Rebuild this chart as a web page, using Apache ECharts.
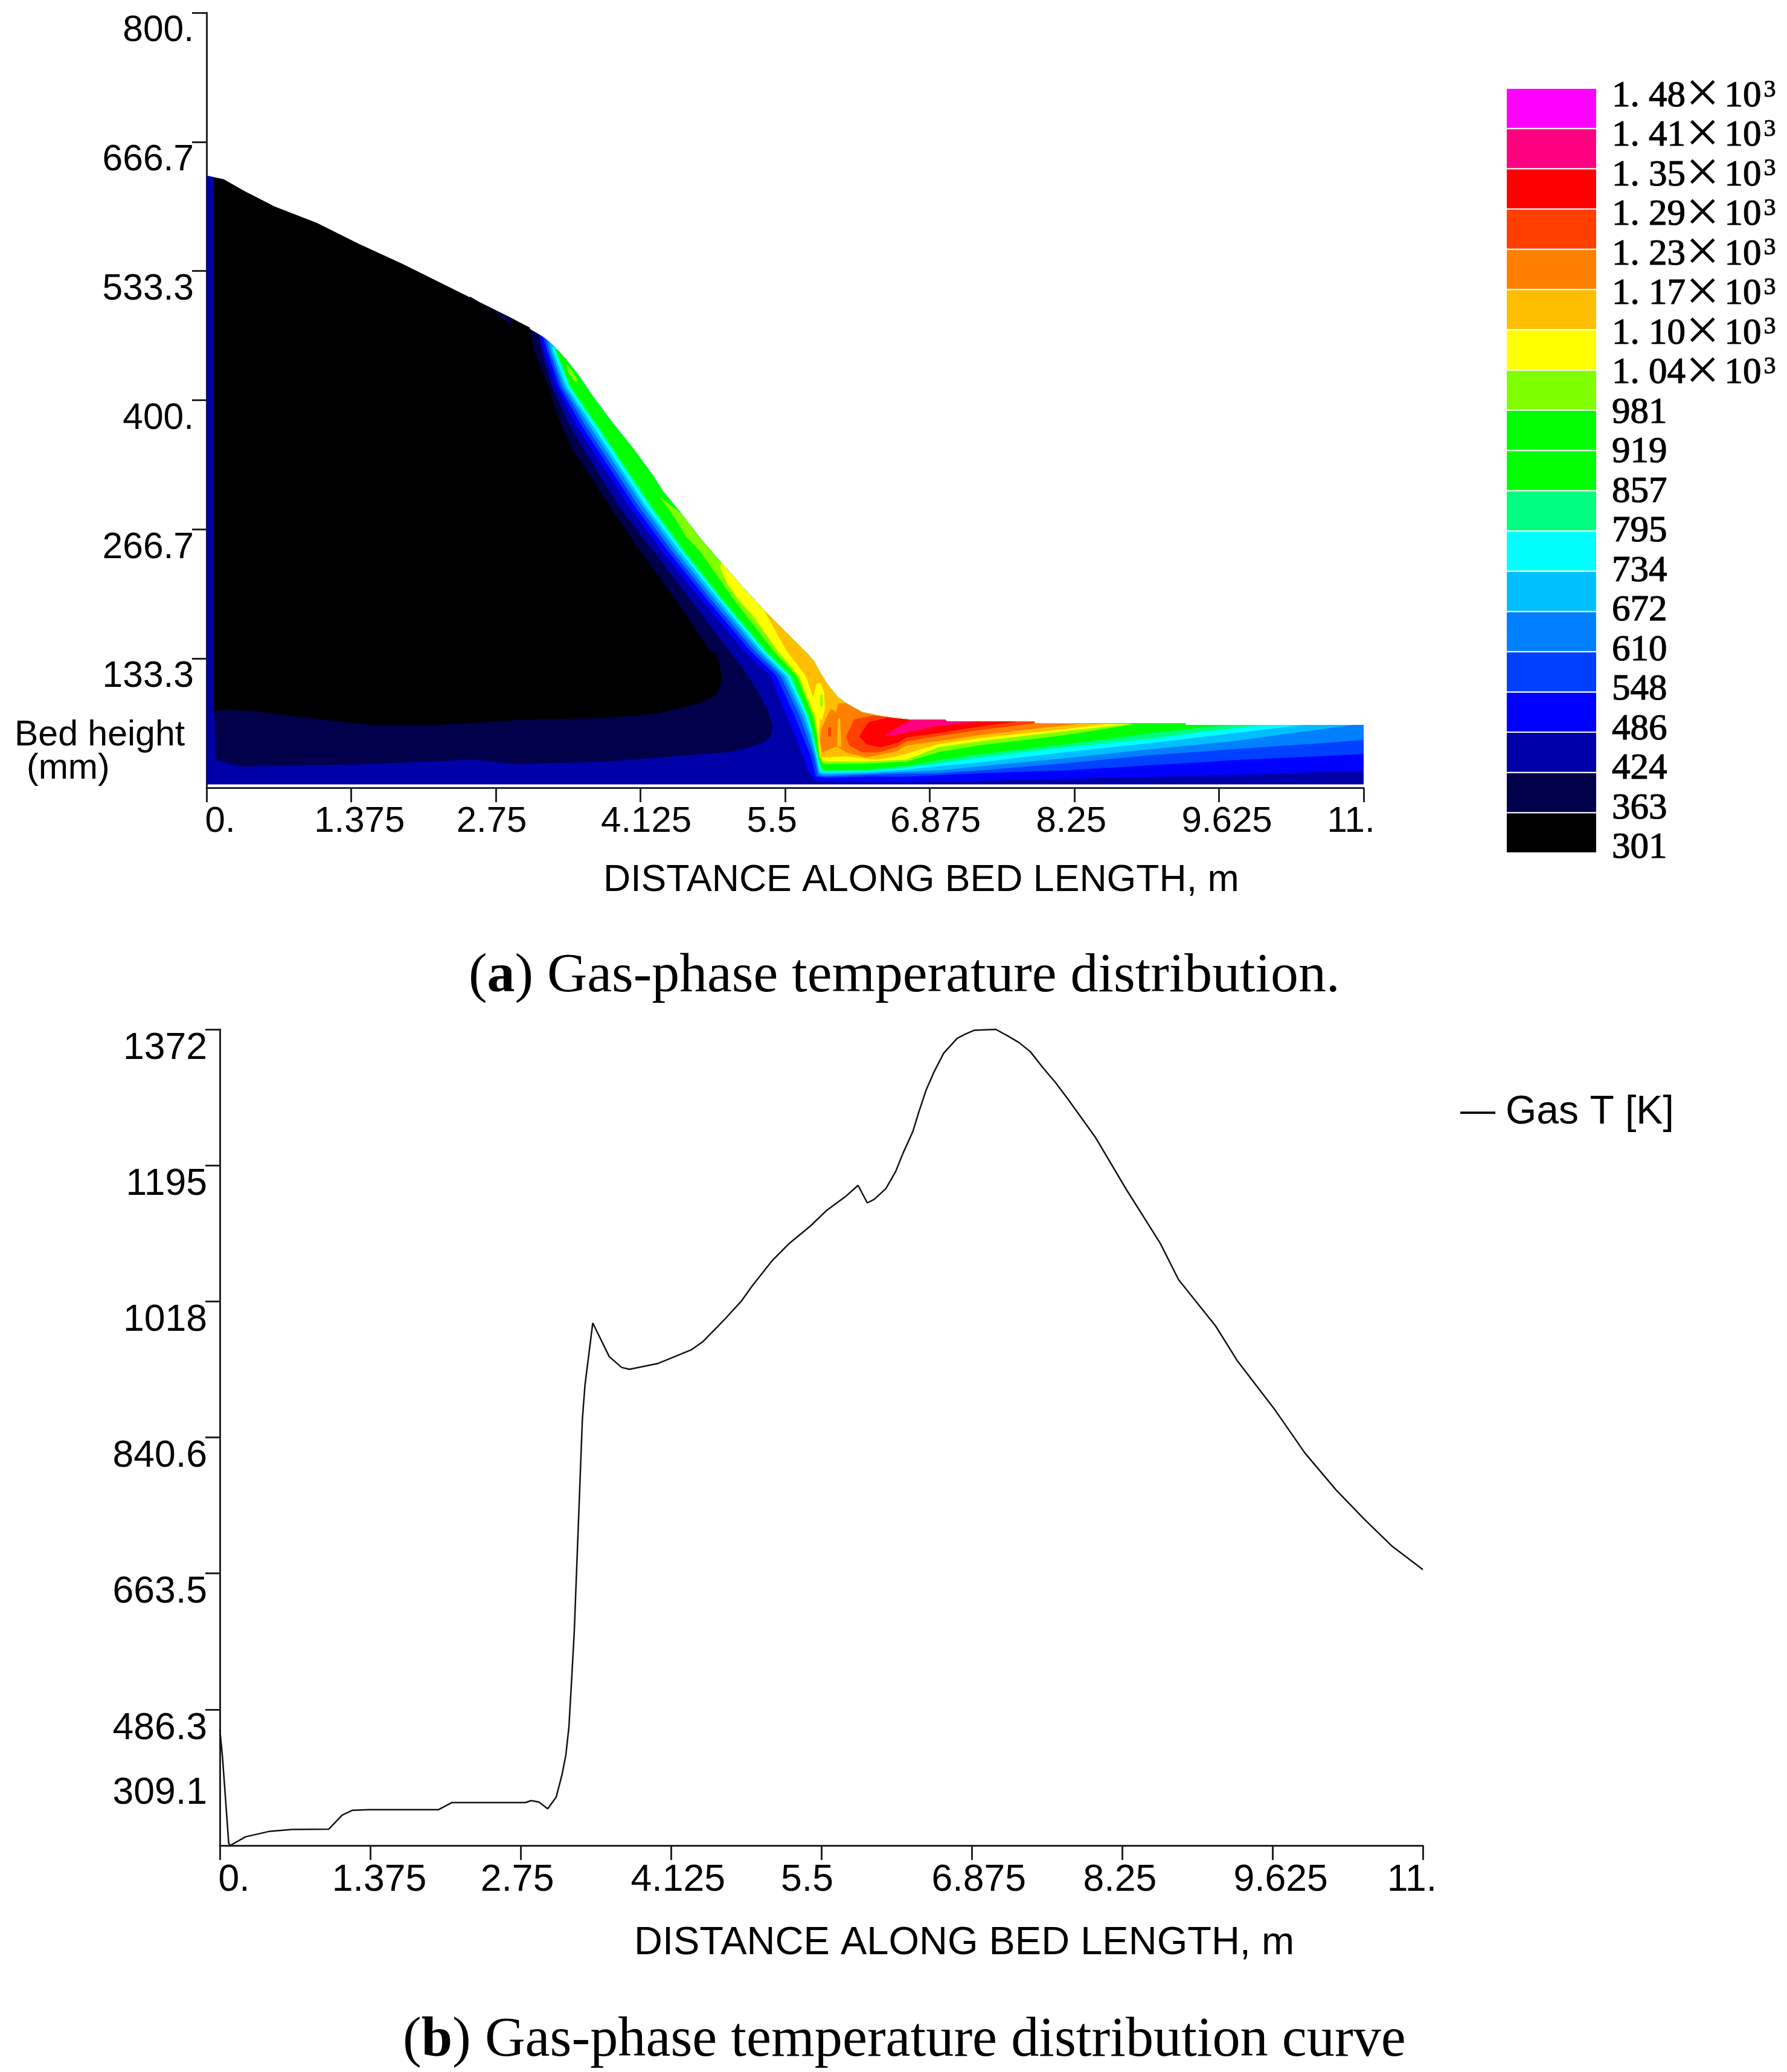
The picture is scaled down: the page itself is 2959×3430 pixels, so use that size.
<!DOCTYPE html>
<html>
<head>
<meta charset="utf-8">
<script src="https://cdn.jsdelivr.net/npm/echarts@6/dist/echarts.min.js"></script>
<style>
  html, body { margin: 0; padding: 0; background: #fff; }
  #chart { width: 2959px; height: 3430px; }
</style>
</head>
<body>
<div id="chart"></div>
<script>
// tick values and labels, labels sit off their ticks in the original
const xTicks = [0, 1.375, 2.75, 4.125, 5.5, 6.875, 8.25, 9.625, 11];
const xTickLabels = ['0.', '1.375', '2.75', '4.125', '5.5', '6.875', '8.25', '9.625', '11.'];
const xLabelPosA = [0.13, 1.454, 2.71, 4.18, 5.375, 6.93, 8.22, 9.70, 10.88];
const xLabelPosB = [0.13, 1.458, 2.72, 4.19, 5.37, 6.94, 8.23, 9.70, 10.90];
const yTicksA = [133.33, 266.67, 400, 533.33, 666.67, 800];
const yTickLabelsA = ['133.3', '266.7', '400.', '533.3', '666.7', '800.'];
const yTicksB = [486.3, 663.5, 840.6, 1018, 1195, 1372];
const yLabelPosB = [401.6, 486.3, 663.5, 840.6, 1018, 1195, 1372];
const yTickLabelsB = ['309.1', '486.3', '663.5', '840.6', '1018', '1195', '1372'];

// legend, bottom to top
const legendValues = ['301', '363', '424', '486', '548', '610', '672', '734', '795', '857', '919', '981',
  '1. 04', '1. 10', '1. 17', '1. 23', '1. 29', '1. 35', '1. 41', '1. 48'];
const legendColors = ['#000000', '#00004B', '#0000A8', '#0000FF', '#0040FF', '#0080FF', '#00BFFF', '#00FFFF',
  '#00FF80', '#00FF00', '#00FF00', '#80FF00', '#FFFF00', '#FFBF00', '#FF8000', '#FF4000', '#FF0000', '#FF0080', '#FF00FF'];

// top surface of the bed [m, mm]
const bedTop = [[0, 632], [0.162, 628], [0.364, 615.6], [0.647, 599.8], [1.051, 582.8], [1.456, 560.9], [1.86, 540.8],
  [2.265, 519], [2.588, 501.5], [2.912, 484], [3.092, 472.4], [3.188, 466.2], [3.245, 461.6], [3.331, 452.7],
  [3.418, 442.3], [3.552, 423.6], [3.667, 404.9], [3.858, 376.9], [4.05, 351], [4.241, 322.9], [4.337, 306.3],
  [4.509, 283.5], [4.701, 256.5], [4.892, 232.6], [5.084, 208.7], [5.295, 183.8], [5.467, 165.1], [5.687, 141.2],
  [5.774, 130.9], [5.831, 119.4], [5.908, 105.9], [6.004, 93.5], [6.08, 87.3], [6.234, 77.9], [6.425, 73.8],
  [6.598, 71.3], [6.7, 70.2], [7.02, 70.2], [7.04, 68.5], [7.87, 68.5], [7.875, 66.5], [9.3, 66.5], [9.31, 64.8], [11, 64.8]];
const bedBottom = 3.5;

// temperature contours, each starts and ends on the bed top or on the right edge
const contour363 = [[2.507, 507], [0.07, 85], [0.086, 28.6], [0.34, 21.8], [1.517, 24.3], [2.54, 29], [2.95, 24.3], [3.78, 27],
  [4.0, 28.4], [4.61, 34], [4.931, 36.4], [5.123, 40.5], [5.276, 45.7], [5.362, 52.9], [5.381, 63.4], [5.343, 77.9],
  [5.257, 96.6], [5.123, 119.4], [4.969, 141.2], [4.614, 192.1], [4.25, 244], [3.916, 290.7], [3.456, 372.8],
  [3.284, 414.3], [3.184, 451.7], [3.16, 468]];
const below363 = [[0.07, 630], [0.07, 78.7], [0.202, 80.9], [0.445, 78.7], [0.971, 72], [1.577, 64.7], [2.184, 64.7], [2.993, 70],
  [3.801, 72.1], [4.287, 76.5], [4.691, 87.4], [4.853, 96.2], [4.901, 113.7], [4.853, 137.7], [4.787, 141.2], [4.471, 192.1],
  [4.126, 244], [3.83, 290.7], [3.628, 325], [3.475, 349.9], [3.379, 372.8], [3.303, 395.6], [3.264, 410.1], [3.188, 430.9],
  [3.111, 451.7], [3.073, 475]];
const navyPatch = [[2.5, 507.5], [2.73, 492.7], [2.87, 478.7], [2.93, 483], [2.6, 501]];
const contour486 = [[3.169, 467], [3.203, 451.7], [3.322, 414.3], [3.523, 372.8], [4.012, 290.7], [4.333, 244], [4.72, 192.1],
  [5.113, 141.2], [5.362, 115.3], [5.515, 73.8], [5.6, 53], [5.669, 32.2], [5.736, 14.6], [5.793, 7.3], [6.08, 6], [6.66, 5.6],
  [7.36, 7.1], [8.17, 9.1], [8.98, 11.2], [9.78, 13.3], [10.51, 16], [11, 16.6]];
const contour548 = [[3.2, 465], [3.236, 451.7], [3.351, 414.3], [3.571, 372.8], [4.069, 290.7], [4.388, 244], [4.774, 192.1],
  [5.17, 141.2], [5.419, 115.3], [5.592, 73.8], [5.669, 53], [5.745, 32.2], [5.793, 11.5], [5.889, 10.4], [6.272, 11.5], [6.655, 11.4],
  [6.96, 12.9], [7.36, 15], [8.17, 18], [8.98, 23.3], [9.78, 28.5], [10.59, 32.6], [11, 34.7]];
const contour610 = [[3.23, 463], [3.255, 451.7], [3.376, 414.3], [3.609, 372.8], [4.107, 290.7], [4.427, 244], [4.812, 192.1],
  [5.208, 141.2], [5.458, 115.3], [5.64, 73.8], [5.707, 53], [5.774, 32.2], [5.812, 12.9], [5.889, 11.9], [6.272, 13.5], [6.655, 14.6],
  [6.96, 15], [7.36, 18], [8.17, 25.3], [8.98, 33.6], [9.78, 39.9], [10.59, 46], [11, 49.2]];
const contour672 = [[3.26, 460], [3.274, 451.7], [3.399, 414.3], [3.644, 372.8], [4.146, 290.7], [4.465, 244], [4.85, 192.1],
  [5.247, 141.2], [5.487, 115.3], [5.669, 73.8], [5.736, 53], [5.787, 32.2], [5.822, 14.6], [5.889, 13.5], [6.272, 14.6], [6.655, 16.6],
  [6.96, 18], [7.36, 22.2], [8.17, 30.5], [8.98, 39.9], [9.78, 48.2], [10.18, 54.4], [10.91, 64.8]];
const contour734 = [[3.29, 456], [3.293, 451.7], [3.422, 414.3], [3.676, 372.8], [4.174, 290.7], [4.5, 244], [4.883, 192.1],
  [5.275, 141.2], [5.515, 115.3], [5.697, 73.8], [5.755, 53], [5.797, 32.2], [5.831, 16], [5.889, 15.2], [6.272, 16], [6.655, 18.7],
  [6.96, 22.2], [7.36, 26.4], [8.17, 36.8], [8.98, 46.1], [9.78, 56.5], [10.43, 64.8]];
const contour795 = [[3.315, 454], [3.312, 451.7], [3.446, 414.3], [3.709, 372.8], [4.213, 290.7], [4.528, 244], [4.908, 192.1],
  [5.304, 141.2], [5.544, 115.3], [5.716, 73.8], [5.764, 53], [5.808, 32.2], [5.847, 17.3], [5.889, 16.6], [6.272, 17.3], [6.655, 20.8],
  [6.96, 25.3], [7.36, 31.6], [8.17, 42], [8.98, 50.7], [9.38, 56.5], [10.04, 64.8]];
const contour857 = [[3.328, 453], [3.322, 451.7], [3.46, 414.3], [3.724, 372.8], [4.232, 290.7], [4.551, 244], [4.927, 192.1],
  [5.323, 141.2], [5.563, 115.3], [5.726, 73.8], [5.774, 53], [5.814, 32.2], [5.851, 18.7], [5.889, 18.1], [6.272, 18.7], [6.655, 22.9],
  [6.96, 28.5], [7.36, 34.7], [8.17, 45], [8.98, 56.5], [9.7, 64.8]];
const contour981 = [[4.509, 283.5], [4.312, 299.7], [4.394, 287.6], [4.49, 272], [4.547, 260.6], [4.691, 244], [5.026, 192.1],
  [5.39, 141.2], [5.611, 115.3], [5.764, 73.8], [5.803, 53], [5.822, 32.2], [5.86, 24.9], [5.889, 24.3], [6.272, 24.9], [6.655, 27],
  [6.96, 36.8], [7.36, 44], [8.17, 54.4], [8.81, 65.5]];
const contour1040 = [[4.892, 232.6], [4.883, 227.4], [4.95, 210.8], [5.074, 192.1], [5.195, 177.6], [5.429, 141.2], [5.63, 115.3],
  [5.784, 73.8], [5.812, 53], [5.831, 32.2], [5.87, 27], [5.889, 27], [6.272, 27], [6.655, 29], [6.96, 42], [7.36, 48.2],
  [8.17, 58.6], [8.81, 65.8]];
const contour1100 = [[5.295, 183.8], [5.515, 141.2], [5.697, 115.3], [5.831, 73.8], [5.822, 53], [5.841, 32.2], [5.851, 31], [6.08, 32.2],
  [6.368, 29], [6.56, 32.2], [6.655, 35.3], [6.96, 45], [7.36, 51.3], [8.17, 60.6], [8.55, 65.8]];
const contour1170 = [[6.08, 87.3], [6.004, 87.3], [5.985, 77.9], [5.937, 82], [5.908, 75.8], [5.841, 60.3], [5.831, 48.8], [5.851, 36.4],
  [5.994, 42.6], [6.08, 36.4], [6.272, 31.2], [6.368, 33.3], [6.56, 37.4], [6.655, 43.6], [6.96, 48.2], [7.36, 54.4], [7.77, 59.6], [8.29, 65.8]];
const contour1230 = [[6.425, 73.8], [6.329, 74.4], [6.157, 70.6], [6.08, 53], [6.109, 43.6], [6.234, 36.4], [6.387, 36.4], [6.56, 41.6],
  [6.655, 47.8], [6.96, 53.4], [7.36, 59.6], [7.875, 66.5]];
const contour1290 = [[6.55, 71.6], [6.464, 72.1], [6.291, 67.5], [6.205, 53], [6.272, 44.7], [6.406, 41.6], [6.579, 46.8], [6.655, 52],
  [6.96, 56.5], [7.32, 62.7], [7.7, 68.5]];
const contour1350 = [[6.7, 70.2], [6.556, 61.7], [6.456, 54.4], [6.456, 52.8], [6.677, 57.5], [6.96, 63.8], [7.32, 67.9], [7.33, 68.5]];
// small closed pockets
const limePatch = [[3.418, 438.2], [3.466, 432], [3.523, 421.6], [3.517, 416.8], [3.446, 426.8]];
const yellowPocket = [[5.783, 100.8], [5.803, 108], [5.841, 108], [5.87, 98.7], [5.879, 82], [5.851, 69.6], [5.812, 73.8], [5.764, 90.4]];
const limePocket = [[5.835, 95.6], [5.856, 95.6], [5.856, 84.1], [5.835, 84.1]];
const amberStripe = [[5.996, 42.6], [6.004, 71.7], [6.023, 71.7], [6.036, 42.6]];
const redOrangeSpot = [[5.908, 62.3], [5.937, 62.3], [5.937, 52.9], [5.908, 52.9]];

// gas temperature along the bed, panel b
const gasX = [0, 0.025, 0.053, 0.081, 0.095, 0.236, 0.448, 0.66, 0.995, 1.118, 1.213, 1.365, 2.0, 2.123, 2.794, 2.847, 2.917, 2.998,
  3.076, 3.129, 3.164, 3.192, 3.217, 3.241, 3.315, 3.339, 3.41, 3.561, 3.674, 3.745, 4.009, 4.309, 4.415, 4.609, 4.767, 4.873,
  5.049, 5.208, 5.402, 5.543, 5.719, 5.836, 5.92, 5.984, 6.09, 6.178, 6.248, 6.337, 6.39, 6.46, 6.53, 6.619, 6.742, 6.813, 6.9, 7.095,
  7.2, 7.306, 7.412, 7.526, 7.64, 7.752, 8.005, 8.287, 8.598, 8.767, 9.105, 9.303, 9.641, 9.923, 10.205, 10.459, 10.713, 11];
const gasT = [460, 423, 368, 312, 309.1, 320.4, 327.3, 329.9, 330.3, 348.5, 355, 355.8, 355.8, 365, 365, 367.5, 365.7, 356.9,
  372.2, 401.4, 427, 463.5, 525.5, 588, 864, 908.8, 989.6, 945.7, 931.7, 929.2, 937, 954.5, 965, 993.2, 1017.8, 1038.8,
  1070.5, 1093.3, 1116.1, 1135.5, 1154, 1168.8, 1146, 1150.6, 1164.6, 1186.4, 1211, 1239, 1263.7, 1293.6, 1316.4, 1341, 1360.3, 1365.6, 1370.9, 1372,
  1363.8, 1355, 1342.8, 1322, 1303, 1281.8, 1231.6, 1163.9, 1093.6, 1045.9, 985.7, 940.5, 877.8, 820, 772.4, 734.8, 699.6, 668.5];

// closes a contour back along the top of the bed
const closeOnTop = (contour) => {
  const first = contour[0][0];
  const last = contour[contour.length - 1][0];
  const top = bedTop.filter(p => p[0] > first && p[0] <= last).reverse();
  return contour.concat(top);
};

const bands = [
  { color: legendColors[2], points: bedTop.concat([[11, bedBottom], [0, bedBottom]]) },
  { color: legendColors[1], points: closeOnTop(contour363) },
  { color: legendColors[0], points: closeOnTop(below363) },
  { color: legendColors[1], points: navyPatch },
  { color: legendColors[3], points: closeOnTop(contour486) },
  { color: legendColors[4], points: closeOnTop(contour548) },
  { color: legendColors[5], points: closeOnTop(contour610) },
  { color: legendColors[6], points: closeOnTop(contour672) },
  { color: legendColors[7], points: closeOnTop(contour734) },
  { color: legendColors[8], points: closeOnTop(contour795) },
  { color: legendColors[9], points: closeOnTop(contour857) },
  { color: legendColors[11], points: limePatch },
  { color: legendColors[11], points: closeOnTop(contour981) },
  { color: legendColors[12], points: closeOnTop(contour1040) },
  { color: legendColors[13], points: closeOnTop(contour1100) },
  { color: legendColors[12], points: yellowPocket },
  { color: legendColors[11], points: limePocket },
  { color: legendColors[14], points: closeOnTop(contour1170) },
  { color: legendColors[13], points: amberStripe },
  { color: legendColors[15], points: redOrangeSpot },
  { color: legendColors[15], points: closeOnTop(contour1230) },
  { color: legendColors[16], points: closeOnTop(contour1290) },
  { color: legendColors[17], points: closeOnTop(contour1350) }
];

const sans = 'Liberation Sans';
const serif = 'Liberation Serif';
const axisLine = { lineStyle: { color: '#222', width: 3 } };

const xAxisFor = (gridIndex, labelPos, fontSize, margin) => ({
  gridIndex,
  type: 'value',
  min: 0,
  max: 11,
  splitLine: { show: false },
  axisLine: { ...axisLine, onZero: false },
  axisTick: { customValues: xTicks, length: 24, lineStyle: { color: '#222', width: 3 } },
  axisLabel: {
    customValues: labelPos,
    formatter: (value) => xTickLabels[labelPos.indexOf(value)],
    color: '#000',
    fontFamily: sans,
    fontSize,
    margin
  }
});

const yAxisFor = (gridIndex, min, max, ticks, labelPos, labels, fontSize) => ({
  gridIndex,
  type: 'value',
  min,
  max,
  splitLine: { show: false },
  axisLine: { ...axisLine, onZero: false },
  axisTick: { customValues: ticks, length: 24, lineStyle: { color: '#222', width: 3 } },
  axisLabel: {
    customValues: labelPos,
    formatter: (value) => labels[labelPos.indexOf(value)],
    color: '#000',
    fontFamily: sans,
    fontSize,
    margin: 21,
    verticalAlign: 'top'
  }
});

// hidden axes for the colour legend
const hiddenX = (gridIndex) => ({ gridIndex, type: 'value', min: 0, max: 1, show: false });
const hiddenY = (gridIndex) => ({ gridIndex, type: 'value', min: 0, max: 19, show: false });

const legendLabel = (value) => {
  if (value.indexOf('. ') >= 0) {
    return '{n|' + value + '}{x|×}{n|10}{s|3}';
  }
  return '{n|' + value + '}';
};

const text = (value, left, top, fontSize, fontFamily) => ({
  text: value,
  left,
  top,
  padding: 0,
  textStyle: { color: '#000', fontFamily, fontSize, fontWeight: 'normal', rich: {
    b: { fontFamily, fontSize, fontWeight: 'bold', color: '#000' },
    r: { fontFamily, fontSize, color: '#000' }
  } }
});

const chart = echarts.init(document.getElementById('chart'), null, { renderer: 'canvas' });

chart.setOption({
  animation: false,
  backgroundColor: '#fff',
  title: [
    text('Bed height', 24, 1188, 59, sans),
    text('(mm)', 44, 1243, 59, sans),
    text('DISTANCE ALONG BED LENGTH, m', 999, 1426, 62.6, sans),
    text('DISTANCE ALONG BED LENGTH, m', 1050, 3185, 65, sans),
    text('{r|(}{b|a}{r|) Gas-phase temperature distribution.}', 776, 1571, 91.8, serif),
    text('{r|(}{b|b}{r|) Gas-phase temperature distribution curve}', 667, 3333, 92.3, serif)
  ],
  legend: {
    data: ['Gas T [K]'],
    left: 2418,
    top: 1809,
    padding: 0,
    icon: 'rect',
    itemWidth: 58,
    itemHeight: 4,
    textStyle: { color: '#000', fontFamily: sans, fontSize: 66, padding: [0, 0, 0, 12] }
  },
  grid: [
    { left: 342, top: 21, width: 1916, height: 1283 },
    { left: 364, top: 1704, width: 1992, height: 1351 },
    { left: 2494, top: 146, width: 150, height: 1266 },
    { left: 2669, top: 160, width: 10, height: 1244 }
  ],
  xAxis: [
    xAxisFor(0, xLabelPosA, 60, 26),
    xAxisFor(1, xLabelPosB, 62.5, 26),
    hiddenX(2),
    hiddenX(3)
  ],
  yAxis: [
    yAxisFor(0, 0, 800, yTicksA, yTicksA, yTickLabelsA, 60.5),
    yAxisFor(1, 309.1, 1372, yTicksB, yLabelPosB, yTickLabelsB, 62.5),
    hiddenY(2),
    hiddenY(3)
  ],
  series: [
    {
      type: 'custom',
      xAxisIndex: 0,
      yAxisIndex: 0,
      silent: true,
      clip: false,
      data: bands.map((b, i) => [i]),
      renderItem: (params, api) => {
        const band = bands[params.dataIndex];
        return {
          type: 'polygon',
          shape: { points: band.points.map(p => api.coord(p)) },
          style: { fill: band.color }
        };
      }
    },
    {
      name: 'Gas T [K]',
      type: 'line',
      xAxisIndex: 1,
      yAxisIndex: 1,
      symbol: 'none',
      clip: false,
      lineStyle: { color: '#111', width: 2.5 },
      itemStyle: { color: '#111' },
      data: gasX.map((x, i) => [x, gasT[i]])
    },
    {
      type: 'custom',
      xAxisIndex: 2,
      yAxisIndex: 2,
      silent: true,
      data: legendColors.map((c, i) => [i]),
      renderItem: (params, api) => {
        const i = params.dataIndex;
        const a = api.coord([0, i + 1]);
        const b = api.coord([1, i]);
        return {
          type: 'rect',
          shape: { x: a[0], y: a[1], width: b[0] - a[0], height: b[1] - a[1] },
          style: { fill: legendColors[i], stroke: '#fff', lineWidth: 2 }
        };
      }
    },
    {
      // legend values, one at each colour boundary
      type: 'custom',
      xAxisIndex: 3,
      yAxisIndex: 3,
      silent: true,
      clip: false,
      data: legendValues.map((v, i) => [i]),
      renderItem: (params, api) => {
        const pos = api.coord([0, params.dataIndex]);
        return {
          type: 'text',
          x: pos[0],
          y: pos[1],
          style: {
            text: legendLabel(legendValues[params.dataIndex]),
            align: 'left',
            verticalAlign: 'middle',
            rich: {
              n: { fontFamily: serif, fontSize: 61, fill: '#000', lineHeight: 62, stroke: '#000', lineWidth: 1.2 },
              x: { fontFamily: serif, fontSize: 100, fill: '#000', lineHeight: 62, padding: [0, 8, 0, 0] },
              s: { fontFamily: serif, fontSize: 40, fill: '#000', lineHeight: 62, verticalAlign: 'top', padding: [0, 0, 0, 4], stroke: '#000', lineWidth: 1 }
            }
          }
        };
      }
    }
  ]
});
</script>
</body>
</html>
